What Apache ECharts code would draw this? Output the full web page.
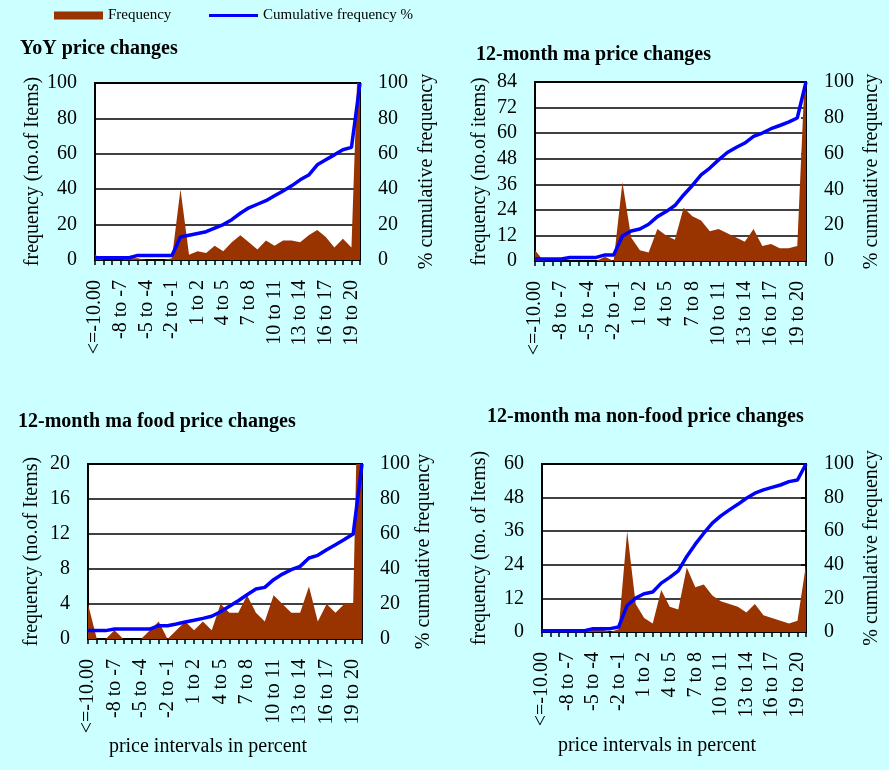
<!DOCTYPE html>
<html>
<head>
<meta charset="utf-8">
<script src="https://cdn.jsdelivr.net/npm/echarts@6/dist/echarts.min.js"></script>
<style>
  html, body { margin: 0; padding: 0; background: #CCFFFF; }
  #chart { width: 889px; height: 770px; }
</style>
</head>
<body>
<div id="chart"></div>
<script>
// Price-change intervals (percent)
const categories = ['<=-10.00','-10 to -9','-9 to -8','-8 to -7','-7 to -6','-6 to -5','-5 to -4',
  '-4 to -3','-3 to -2','-2 to -1','-1 to 0','0 to 1','1 to 2','2 to 3','3 to 4','4 to 5','5 to 6',
  '6 to 7','7 to 8','8 to 9','9 to 10','10 to 11','11 to 12','12 to 13','13 to 14','14 to 15',
  '15 to 16','16 to 17','17 to 18','18 to 19','19 to 20','>20'];

// YoY price changes
const yoyFreq = [3,0,0,0,1,1,0,0,0,1,40,3,5,4,8,5,10,14,10,6,11,8,11,11,10,14,17,13,7,12,7,150];
const yoyCum  = [1.3,1.3,1.3,1.3,1.3,2.6,2.6,2.6,2.6,2.6,13,14,15,16,18,20,22.8,26.4,29.5,31.5,33.5,36.3,39,41.9,45.3,48,53.8,56.6,59.4,62.3,63.6,100];

// 12-month moving-average price changes
const maFreq = [5,0,0,0,0,0,0,0,2,0,37,11,5,4,15,12,10,25,21,19,14,15,13,11,9,15,7,8,6,6,7,100];
const maCum  = [1.1,1.1,1.1,1.1,2,2,2,2,3.4,3.4,14,16.8,17.9,20.5,24.8,27.6,31,36.9,42.2,48.1,51.9,56.5,60.6,63.4,65.9,69.6,71.5,73.9,75.7,77.6,79.9,100];

// 12-month moving-average food price changes
const foodFreq = [4,0,0,1,0,0,0,1,2,0,1,2,1,2,1,4,3,3,5,3,2,5,4,3,3,6,2,4,3,4,4,50];
const foodCum  = [4.8,4.8,4.8,5.7,5.7,5.7,5.7,5.7,7.6,7.6,8.6,9.7,10.7,11.8,13,15.6,18.7,21.9,25.3,28.6,29.5,33.9,37.1,39.6,41.5,46.3,47.8,51,53.9,56.8,60,100];

// 12-month moving-average non-food price changes
const nonFoodFreq = [0,0,0,0,0,0,1,1,0,1,36,10,5,3,15,9,8,23,16,17,13,11,10,9,7,10,6,5,4,3,4,24];
const nonFoodCum  = [0.8,0.8,0.8,0.8,0.8,0.8,2,2,2,3,15.8,20.2,22.8,23.8,29.1,32.5,36.4,45,52.3,58.8,64.8,69.1,72.7,76,79.6,82.6,84.6,86.1,87.5,89.5,90.5,100];

// Axis scales and labels
const freqMax      = [100, 84, 20, 60];
const freqInterval = [20, 12, 4, 12];
const cumMax = 100, cumInterval = 20;
const titles = ['YoY price changes', '12-month ma price changes',
  '12-month ma food price changes', '12-month ma non-food price changes'];
const freqNames = ['frequency (no.of Items)', 'frequency (no.of items)',
  'frequency (no.of Items)', 'frequency (no. of Items)'];
const cumName = '% cumulative frequency';
const xName = 'price intervals in percent';
const freqSeriesName = 'Frequency';
const cumSeriesName = 'Cumulative frequency %';

const freqData = [yoyFreq, maFreq, foodFreq, nonFoodFreq];
const cumData = [yoyCum, maCum, foodCum, nonFoodCum];

const FONT = "'Liberation Serif', 'Times New Roman', serif";
const BROWN = '#993300';
const BLUE = '#0000FF';

// Panel layout
const layout = [
  { grid: { left: 95,  top: 83,  width: 265, height: 177 }, tl: 20,  tt: 39,  lg: 50, rg: 57, xg: 104 },
  { grid: { left: 535, top: 82,  width: 271, height: 179 }, tl: 476, tt: 45,  lg: 45, rg: 56, xg: 104 },
  { grid: { left: 88,  top: 464, width: 274, height: 175 }, tl: 18,  tt: 412, lg: 46, rg: 51, xg: 97 },
  { grid: { left: 542, top: 464, width: 264, height: 168 }, tl: 487, tt: 407, lg: 52, rg: 56, xg: 104 }
];

const option = {
  backgroundColor: '#CCFFFF',
  animation: false,
  textStyle: { fontFamily: FONT, color: '#000' },
  legend: [
    { data: [{ name: freqSeriesName, icon: 'rect' }], left: 49, top: 3, itemWidth: 49, itemHeight: 8,
      textStyle: { fontFamily: FONT, fontSize: 15, color: '#000' }, selectedMode: false },
    { data: [{ name: cumSeriesName, icon: 'rect' }], left: 204, top: 3, itemWidth: 49, itemHeight: 3,
      textStyle: { fontFamily: FONT, fontSize: 15, color: '#000' }, selectedMode: false }
  ],
  title: [], grid: [], xAxis: [], yAxis: [], series: []
};

layout.forEach((p, i) => {
  option.title.push({
    text: titles[i], left: p.tl, top: p.tt, padding: 0,
    textStyle: { fontFamily: FONT, fontWeight: 'bold', fontSize: 20, color: '#000' }
  });
  option.grid.push(Object.assign({
    show: true, backgroundColor: '#fff', borderColor: '#000', borderWidth: 2, containLabel: false
  }, p.grid));
  option.xAxis.push({
    gridIndex: i, type: 'category', data: categories, boundaryGap: false,
    name: i >= 2 ? xName : '', nameLocation: 'middle', nameGap: p.xg,
    nameTextStyle: { fontFamily: FONT, fontSize: 20, color: '#000', padding: [0, 34, 0, 0] },
    axisLine: { show: true, lineStyle: { color: '#000', width: 2 } },
    axisTick: { show: true, interval: 0, length: 5, lineStyle: { color: '#000', width: 1.5 } },
    axisLabel: { interval: 2, rotate: 90, margin: 20, fontFamily: FONT, fontSize: 20, color: '#000' },
    splitLine: { show: false }
  });
  option.yAxis.push({
    gridIndex: i, type: 'value', min: 0, max: freqMax[i], interval: freqInterval[i], position: 'left',
    name: freqNames[i], nameLocation: 'middle', nameGap: p.lg, nameRotate: 90,
    nameTextStyle: { fontFamily: FONT, fontSize: 20, color: '#000' },
    axisLine: { show: true, lineStyle: { color: '#000', width: 2 } },
    axisTick: { show: false },
    axisLabel: { margin: 18, fontFamily: FONT, fontSize: 20, color: '#000' },
    splitLine: { show: true, lineStyle: { color: '#000', width: 1.5 } }
  });
  option.yAxis.push({
    gridIndex: i, type: 'value', min: 0, max: cumMax, interval: cumInterval, position: 'right',
    name: cumName, nameLocation: 'middle', nameGap: p.rg, nameRotate: 90,
    nameTextStyle: { fontFamily: FONT, fontSize: 20, color: '#000' },
    axisLine: { show: true, lineStyle: { color: '#000', width: 2 } },
    axisTick: { show: true, inside: true, length: 5, lineStyle: { color: '#000', width: 1.5 } },
    axisLabel: { margin: 18, fontFamily: FONT, fontSize: 20, color: '#000' },
    splitLine: { show: false }
  });
  option.series.push({
    name: freqSeriesName, type: 'line', xAxisIndex: i, yAxisIndex: 2 * i,
    data: freqData[i], showSymbol: false, symbol: 'none', clip: true, color: BROWN,
    lineStyle: { width: 0, color: BROWN }, areaStyle: { color: BROWN, opacity: 1 }, z: 2
  });
  option.series.push({
    name: cumSeriesName, type: 'line', xAxisIndex: i, yAxisIndex: 2 * i + 1,
    data: cumData[i], showSymbol: false, symbol: 'none', clip: true, color: BLUE,
    lineStyle: { width: 3.5, color: BLUE }, z: 3
  });
});

const chart = echarts.init(document.getElementById('chart'), null, { renderer: 'canvas' });
chart.setOption(option);
</script>
</body>
</html>
